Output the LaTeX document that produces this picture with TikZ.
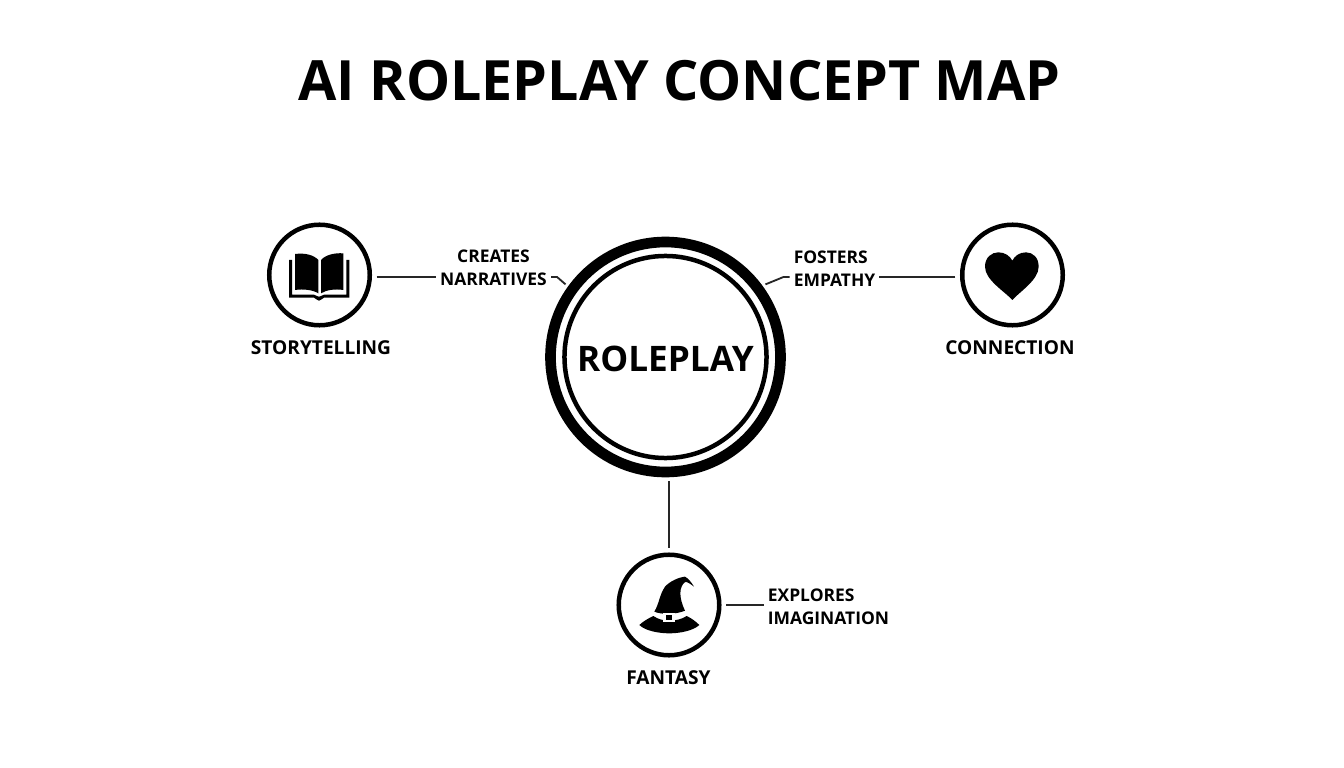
\documentclass[tikz,border=0pt]{standalone}
\usepackage{fontspec}
\setmainfont{Open Sans}
\usetikzlibrary{positioning, backgrounds}
\tikzstyle{hub} = [circle, minimum size=143.7pt, line width=3.2pt, draw=black, fill=white, font=\bfseries\fontsize{25}{30}\selectfont, text height=21.5pt, inner sep=0pt, outer sep=16pt]
\tikzstyle{topic} = [circle, minimum size=71.5pt, line width=3.2pt, draw=black, fill=white, outer sep=4.8pt]
\tikzstyle{caption} = [font=\bfseries\fontsize{13.6}{16}\selectfont, inner sep=0pt]
\tikzstyle{note} = [font=\bfseries\fontsize{12.4}{16.4}\selectfont, inner sep=0pt, outer sep=3pt]
\tikzstyle{link} = [draw=black!85, line width=1.3pt]
\tikzstyle{icon} = [fill=black, draw=none]

\begin{document}
\begin{tikzpicture}[x=0.025cm, y=-0.025cm, background rectangle/.style={fill=white}, show background rectangle]

    \useasboundingbox (0, 0) rectangle (1344, 768);

    \node (title) [font=\bfseries\fontsize{39.5}{46}\selectfont] at (679.5, 81) {AI ROLEPLAY CONCEPT MAP};

    \node (roleplay) [hub] at (665.5, 357) {ROLEPLAY};
    \draw [line width=7.6pt] (roleplay) circle (115);

    \node (story) [topic] at (319.5, 275) {};
    \node (heart) [topic] at (1012.5, 275) {};
    \node (hat) [topic] at (669, 605) {};

    \node (storycap) [caption] at (321, 348) {STORYTELLING};
    \node (heartcap) [caption] at (1010, 348) {CONNECTION};
    \node (hatcap) [caption] at (668.5, 678) {FANTASY};

    \node (creates) [note, align=center] at (493.5, 267.5) {CREATES\\NARRATIVES};
    \node (fosters) [note, align=left] at (834.5, 268.5) {FOSTERS\\EMPATHY};
    \node (explores) [note, align=left] at (828.5, 607) {EXPLORES\\IMAGINATION};

    % book
    \begin{scope}[shift={(240, 210)}, scale=1/3]
        \fill [icon] (165, 132) .. controls (195, 128) and (222, 135) .. (235, 150) -- (235, 250) .. controls (220, 240) and (190, 236) .. (165, 240) -- cycle;
        \fill [icon] (243, 150) .. controls (256, 135) and (283, 128) .. (310, 130) -- (310, 240) .. controls (285, 236) and (258, 240) .. (243, 250) -- cycle;
        \fill [icon] (147, 150) -- (156, 150) -- (156, 254) -- (222, 254) .. controls (228, 256) and (232, 260) .. (237, 260) .. controls (242, 260) and (246, 256) .. (252, 254) -- (319, 254) -- (319, 150) -- (328, 150) -- (328, 263) -- (252, 263) .. controls (246, 265) and (243, 272) .. (237, 272) .. controls (231, 272) and (228, 265) .. (222, 263) -- (147, 263) -- cycle;
    \end{scope}

    % heart
    \begin{scope}[shift={(760, 210)}, scale=1/3]
        \fill [icon] (757, 270) .. controls (735, 245) and (675, 210) .. (675, 170) .. controls (675, 142) and (695, 127) .. (715, 127) .. controls (735, 127) and (750, 138) .. (757, 152) .. controls (764, 138) and (778, 127) .. (798, 127) .. controls (818, 127) and (836, 142) .. (836, 170) .. controls (836, 210) and (779, 245) .. (757, 270) -- cycle;
    \end{scope}

    % hat
    \begin{scope}[shift={(630, 570)}, scale=1/3]
        \fill [icon] (73, 125) .. controls (88, 100) and (88, 75) .. (105, 50) .. controls (118, 35) and (145, 22) .. (165, 20) .. controls (175, 25) and (185, 38) .. (192, 50) .. controls (182, 42) and (172, 35) .. (165, 36) .. controls (148, 50) and (145, 80) .. (165, 122) .. controls (140, 133) and (95, 135) .. (73, 125) -- cycle;
        \fill [icon] (28, 165) .. controls (38, 155) and (55, 145) .. (70, 138) .. controls (85, 148) and (100, 152) .. (118, 152) .. controls (135, 152) and (155, 148) .. (170, 138) .. controls (185, 145) and (198, 155) .. (208, 165) .. controls (190, 182) and (150, 190) .. (118, 190) .. controls (85, 190) and (45, 182) .. (28, 165) -- cycle;
        \fill [white] (100, 128) rectangle (135, 155);
        \fill [icon] (108, 135) rectangle (125, 150);
    \end{scope}

    \coordinate (storyout) at ([yshift=-1.4pt]story.east);
    \coordinate (heartout) at ([yshift=-1.4pt]heart.west);

    \draw [link] (storyout) -- (storyout -| creates.west);
    \draw [link] (storyout -| creates.east) -- ++(6, 0) -- (roleplay.144);

    \draw [link] (heartout) -- (heartout -| fosters.east);
    \draw [link] (heartout -| fosters.west) -- ++(-6, 0) -- (roleplay.36);

    \draw [link] (hat.north) -- (hat.north |- roleplay.south);
    \draw [link] (hat.east) -- (hat.east -| explores.west);

\end{tikzpicture}
\end{document}
